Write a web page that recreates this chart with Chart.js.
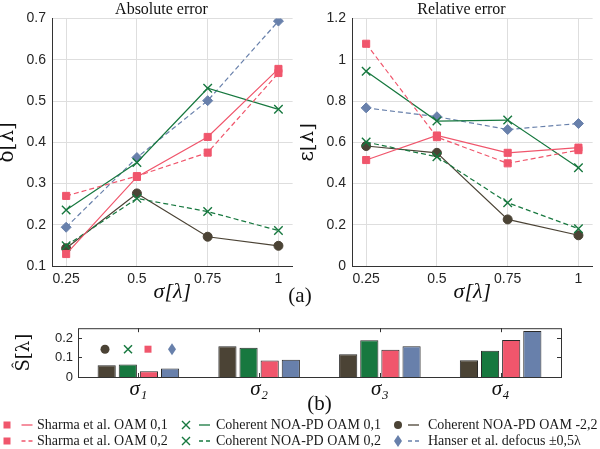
<!DOCTYPE html>
<html>
<head>
<meta charset="utf-8">
<script src="https://cdn.jsdelivr.net/npm/chart.js@4"></script>
<style>
  body { margin: 0; background: #fff; width: 600px; height: 449px; overflow: hidden; position: relative; }
  canvas { position: absolute; }
  #legend { position: absolute; left: 0; top: 0; width: 600px; height: 449px; pointer-events: none;
            font-family: "Liberation Serif", serif; font-size: 14px; color: #1a1a1a; }
  .item { position: absolute; display: flex; align-items: center; white-space: nowrap; height: 16px; }
  .item svg { flex: none; }
</style>
</head>
<body>
<canvas id="abs" width="300" height="305" style="left:0;top:0"></canvas>
<canvas id="rel" width="300" height="305" style="left:300px;top:0"></canvas>
<canvas id="bars" width="600" height="134" style="left:0;top:284px"></canvas>
<div id="legend"></div>
<script>
// x values and tick labels
const sigma = [0.25, 0.5, 0.75, 1];
const sigmaTicks = [0.25, 0.5, 0.75, 1];
const absTicks = [0.1, 0.2, 0.3, 0.4, 0.5, 0.6, 0.7];
const relTicks = [0, 0.2, 0.4, 0.6, 0.8, 1, 1.2];
const barTicks = [0, 0.1, 0.2];
const barCategories = ["σ₁", "σ₂", "σ₃", "σ₄"];

const seriesLabels = [
  "Sharma et al. OAM 0,1",
  "Sharma et al. OAM 0,2",
  "Coherent NOA-PD OAM 0,1",
  "Coherent NOA-PD OAM 0,2",
  "Coherent NOA-PD OAM -2,2",
  "Hanser et al. defocus ±0,5λ",
];

// (a) absolute error
const absSharma01 = [0.129, 0.316, 0.413, 0.578];
const absSharma02 = [0.270, 0.318, 0.375, 0.568];
const absNoa01 = [0.236, 0.351, 0.531, 0.480];
const absNoa02 = [0.149, 0.264, 0.232, 0.186];
const absNoa22 = [0.143, 0.276, 0.171, 0.149];
const absHanser = [0.194, 0.363, 0.501, 0.694];

// (a) relative error
const relSharma01 = [0.514, 0.633, 0.549, 0.574];
const relSharma02 = [1.078, 0.625, 0.498, 0.562];
const relNoa01 = [0.945, 0.703, 0.708, 0.477];
const relNoa02 = [0.601, 0.530, 0.307, 0.181];
const relNoa22 = [0.582, 0.549, 0.226, 0.149];
const relHanser = [0.767, 0.724, 0.662, 0.691];

// (b) std per sigma
const stdNoa22 = [0.060, 0.157, 0.116, 0.086];
const stdNoa = [0.064, 0.150, 0.188, 0.134];
const stdSharma = [0.029, 0.084, 0.140, 0.190];
const stdHanser = [0.043, 0.088, 0.157, 0.236];

const PINK = "#f0566c", GREEN = "#17783f", DARK = "#4b4335", BLUE = "#6880ab";
const SANS = "'Liberation Sans', Arial, sans-serif";
const SERIF = "'Liberation Serif', serif";
const MATH = "'DejaVu Serif', serif";

const styles = [
  { color: PINK, marker: "rect", r: 5, dash: [] },
  { color: PINK, marker: "rect", r: 5, dash: [5, 3] },
  { color: GREEN, marker: "crossRot", r: 6, dash: [] },
  { color: GREEN, marker: "crossRot", r: 6, dash: [5, 3] },
  { color: DARK, marker: "circle", r: 4.5, dash: [] },
  { color: BLUE, marker: "rectRot", r: 5, dash: [5, 3] },
];

function lineDatasets(arrays) {
  return arrays.map((vals, i) => ({
    label: seriesLabels[i],
    data: vals.map((v, k) => ({ x: sigma[k], y: v })),
    borderColor: styles[i].color,
    backgroundColor: styles[i].color,
    borderWidth: 1.2,
    borderDash: styles[i].dash,
    pointStyle: styles[i].marker,
    pointRadius: styles[i].r,
    pointBorderWidth: styles[i].marker === "crossRot" ? 1.4 : 1,
    pointBackgroundColor: styles[i].color,
    pointBorderColor: styles[i].color,
    tension: 0,
  }));
}

function lineChart(id, title, yLabel, arrays, yMin, yMax, yTicks) {
  new Chart(document.getElementById(id), {
    type: "line",
    data: { datasets: lineDatasets(arrays) },
    options: {
      responsive: false,
      animation: false,
      layout: { padding: { left: 25, right: 2, top: 1, bottom: 0 } },
      plugins: {
        legend: { display: false },
        tooltip: { enabled: false },
        title: {
          display: true, text: title, color: "#111",
          font: { family: SERIF, size: 16, weight: "normal", lineHeight: 1.1 },
          padding: { top: 0, bottom: 0 },
        },
      },
      scales: {
        x: {
          type: "linear", min: 0.2, max: 1.05,
          afterBuildTicks: (s) => { s.ticks = sigmaTicks.map((v) => ({ value: v })); },
          afterFit: (s) => { s.height = 39; },
          ticks: { color: "#262626", font: { family: SANS, size: 14 }, padding: 5, maxRotation: 0,
                   callback: (v) => String(v) },
          grid: { color: "#dedede", drawTicks: false },
          border: { color: "#333", width: 1 },
          title: { display: true, text: "σ[λ]", color: "#111",
                   font: { family: SERIF, size: 22, style: "italic", lineHeight: 1 },
                   padding: { top: 0, bottom: 2 } },
        },
        y: {
          min: yMin, max: yMax,
          afterBuildTicks: (s) => { s.ticks = yTicks.map((v) => ({ value: v })); },
          afterFit: (s) => { s.width = 27; },
          ticks: { color: "#262626", font: { family: SANS, size: 14 }, padding: 6,
                   callback: (v) => String(+v.toFixed(2)) },
          grid: { color: "#dedede", drawTicks: false },
          border: { color: "#333", width: 1 },
          title: { display: true, text: yLabel, color: "#111",
                   font: { family: MATH, size: 20, lineHeight: 1 },
                   padding: { top: -27, bottom: 0 } },
        },
      },
    },
  });
}

lineChart("abs", "Absolute error", "δ̄[λ]",
  [absSharma01, absSharma02, absNoa01, absNoa02, absNoa22, absHanser], 0.1, 0.7, absTicks);
lineChart("rel", "Relative error", "ε̄[λ]",
  [relSharma01, relSharma02, relNoa01, relNoa02, relNoa22, relHanser], 0, 1.2, relTicks);

// box, inner ticks and marker key for the bar panel
function drawMark(ctx, type, color, x, y) {
  ctx.save();
  ctx.fillStyle = color; ctx.strokeStyle = color; ctx.lineWidth = 1.5;
  ctx.beginPath();
  if (type === "circle") { ctx.arc(x, y, 4.5, 0, Math.PI * 2); ctx.fill(); }
  else if (type === "rect") { ctx.rect(x - 3.5, y - 3.5, 7, 7); ctx.fill(); }
  else if (type === "rectRot") {
    ctx.moveTo(x, y - 6); ctx.lineTo(x + 4, y); ctx.lineTo(x, y + 6); ctx.lineTo(x - 4, y); ctx.closePath(); ctx.fill();
  } else {
    ctx.moveTo(x - 4, y - 4); ctx.lineTo(x + 4, y + 4); ctx.moveTo(x + 4, y - 4); ctx.lineTo(x - 4, y + 4); ctx.stroke();
  }
  ctx.restore();
}

const barFrame = {
  id: "barFrame",
  afterDraw(chart) {
    const { ctx, chartArea: a, scales } = chart;
    ctx.save();
    ctx.strokeStyle = "#333"; ctx.lineWidth = 1;
    ctx.strokeRect(a.left + 0.5, a.top + 0.5, a.right - a.left, a.bottom - a.top);
    ctx.beginPath();
    scales.x.ticks.forEach((t, i) => {
      const x = Math.round(scales.x.getPixelForTick(i)) + 0.5;
      ctx.moveTo(x, a.top); ctx.lineTo(x, a.top + 4);
      ctx.moveTo(x, a.bottom); ctx.lineTo(x, a.bottom - 4);
    });
    scales.y.ticks.forEach((t) => {
      const y = Math.round(scales.y.getPixelForValue(t.value)) + 0.5;
      ctx.moveTo(a.right, y); ctx.lineTo(a.right - 4, y);
      ctx.moveTo(a.left, y); ctx.lineTo(a.left + 4, y);
    });
    ctx.stroke();
    ctx.restore();
    const keyY = a.top + 21;
    drawMark(ctx, "circle", DARK, a.left + 27, keyY);
    drawMark(ctx, "cross", GREEN, a.left + 50, keyY);
    drawMark(ctx, "rect", PINK, a.left + 70, keyY);
    drawMark(ctx, "rectRot", BLUE, a.left + 94, keyY);
  },
};

const barSeries = [
  { data: stdNoa22, color: DARK },
  { data: stdNoa, color: GREEN },
  { data: stdSharma, color: PINK },
  { data: stdHanser, color: BLUE },
];

new Chart(document.getElementById("bars"), {
  type: "bar",
  data: {
    labels: barCategories,
    datasets: barSeries.map((s) => ({
      data: s.data,
      backgroundColor: s.color,
      borderColor: "#2a2a2a",
      borderWidth: 1,
      categoryPercentage: 0.7,
      barPercentage: 0.86,
    })),
  },
  options: {
    responsive: false,
    animation: false,
    layout: { padding: { left: 39, right: 39, top: 0, bottom: 0 } },
    plugins: {
      legend: { display: false },
      tooltip: { enabled: false },
      title: {
        display: true, text: "(a)", color: "#111",
        font: { family: SERIF, size: 21, weight: "normal", lineHeight: 1.2 },
        padding: { top: 0, bottom: 19 },
      },
    },
    scales: {
      x: {
        afterFit: (s) => { s.height = 41; },
        ticks: { color: "#111", font: { family: SERIF, size: 21, style: "italic" }, padding: 0 },
        grid: { display: false, drawTicks: false },
        border: { display: false },
        title: { display: true, text: "(b)", color: "#111",
                 font: { family: SERIF, size: 21, lineHeight: 1.2 },
                 padding: { top: 0, bottom: 1 } },
      },
      y: {
        min: 0, max: 0.25,
        afterBuildTicks: (s) => { s.ticks = barTicks.map((v) => ({ value: v })); },
        afterFit: (s) => { s.width = 39; },
        ticks: { color: "#262626", font: { family: SANS, size: 13 }, padding: 5,
                 callback: (v) => String(+v.toFixed(2)) },
        grid: { display: false, drawTicks: false },
        border: { display: false },
        title: { display: true, text: "Ŝ[λ]", color: "#111",
                 font: { family: MATH, size: 18, lineHeight: 1 },
                 padding: { top: -24, bottom: 0 } },
      },
    },
  },
  plugins: [barFrame],
});

// legend below panel (b)
const legendCols = [
  { markX: 6.5, lineX: 21, textX: 37 },
  { markX: 186, lineX: 199, textX: 216 },
  { markX: 398, lineX: 408, textX: 428 },
];
const legendRows = [425, 441];
const legendPlace = [[0, 0], [0, 1], [1, 0], [1, 1], [2, 0], [2, 1]];

function iconSvg(st, col) {
  const w = col.textX - col.markX + 8;
  const cx = 8, cy = 8;
  let m = "";
  if (st.marker === "rect") m = `<rect x="${cx - 3.5}" y="${cy - 3.5}" width="7" height="7" fill="${st.color}"/>`;
  else if (st.marker === "circle") m = `<circle cx="${cx}" cy="${cy}" r="4" fill="${st.color}"/>`;
  else if (st.marker === "rectRot") m = `<path d="M${cx} ${cy - 6}L${cx + 4} ${cy}L${cx} ${cy + 6}L${cx - 4} ${cy}Z" fill="${st.color}"/>`;
  else m = `<path d="M${cx - 4} ${cy - 4}L${cx + 4} ${cy + 4}M${cx + 4} ${cy - 4}L${cx - 4} ${cy + 4}" stroke="${st.color}" stroke-width="1.4"/>`;
  const x0 = col.lineX - col.markX + 8, x1 = x0 + 11;
  const dash = st.dash.length ? ` stroke-dasharray="4 3"` : "";
  const ln = `<line x1="${x0}" y1="${cy}" x2="${x1}" y2="${cy}" stroke="${st.color}" stroke-width="1.3"${dash}/>`;
  return `<svg width="${w}" height="16" viewBox="0 0 ${w} 16">${m}${ln}</svg>`;
}

const legendEl = document.getElementById("legend");
seriesLabels.forEach((label, i) => {
  const [c, r] = legendPlace[i];
  const col = legendCols[c];
  const div = document.createElement("div");
  div.className = "item";
  div.style.left = (col.markX - 8) + "px";
  div.style.top = (legendRows[r] - 8) + "px";
  div.innerHTML = iconSvg(styles[i], col);
  const span = document.createElement("span");
  span.textContent = label;
  div.appendChild(span);
  legendEl.appendChild(div);
});
</script>
</body>
</html>
